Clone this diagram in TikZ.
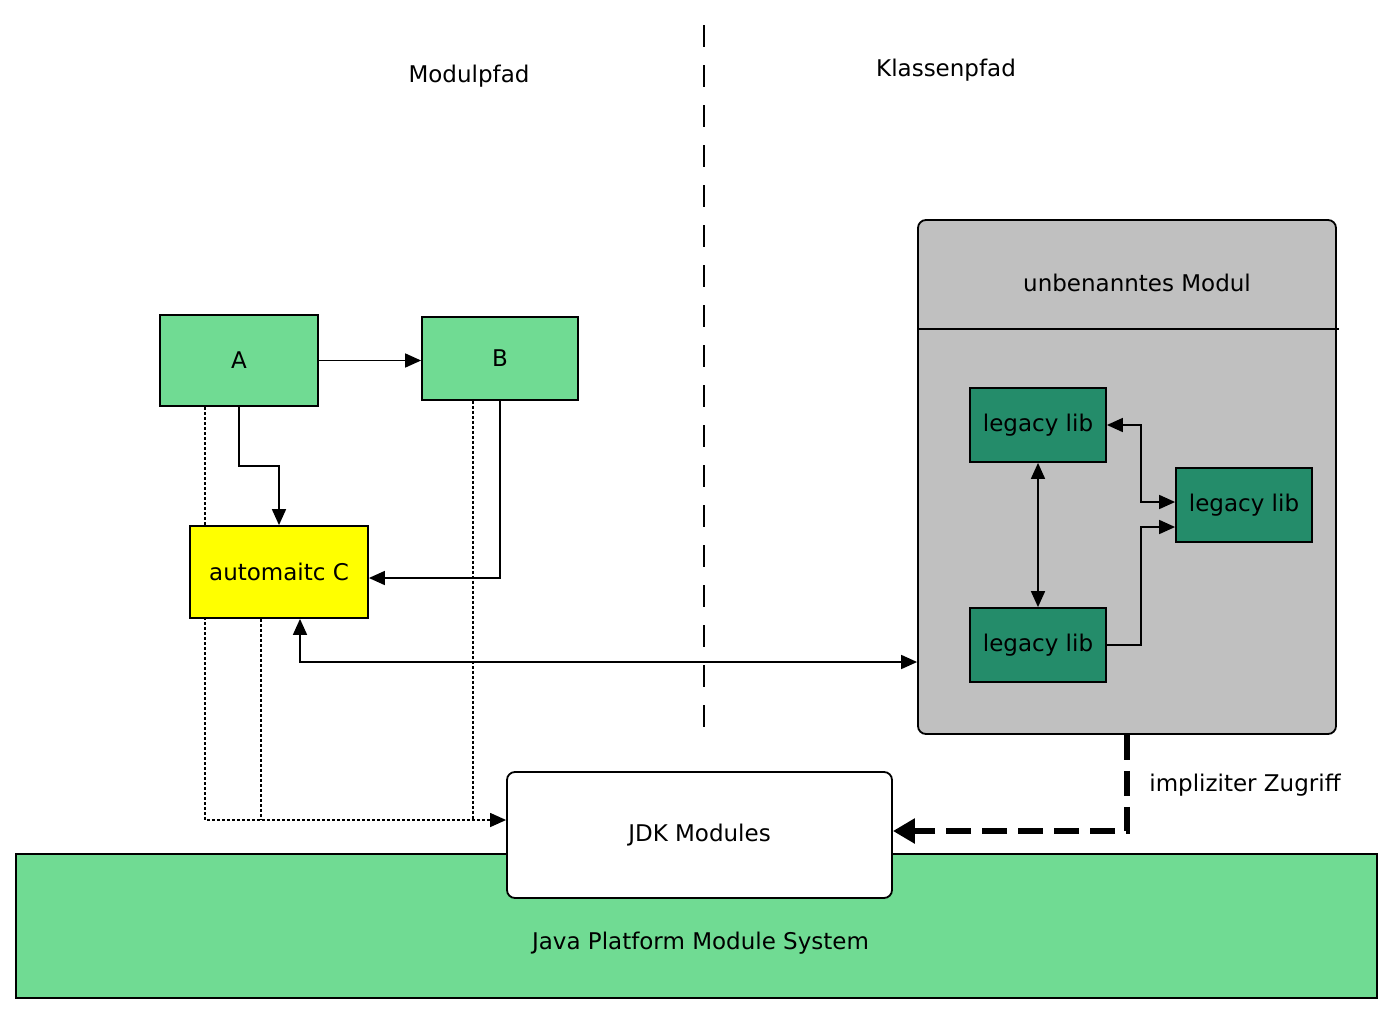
\documentclass[tikz,border=0pt]{standalone}
\usepackage{fontspec}
\setmainfont{DejaVu Sans}
\usetikzlibrary{arrows.meta,backgrounds}
\definecolor{lgreen}{RGB}{112,219,147}
\definecolor{dgreen}{RGB}{36,140,106}
\definecolor{cgray}{RGB}{192,192,192}
\definecolor{cyellow}{RGB}{255,255,0}
\begin{document}
\begin{tikzpicture}[x=1pt,y=-1pt,
  font=\fontsize{23}{27}\selectfont,
  tip/.tip={Triangle[length=16pt,width=14pt]},
  bigtip/.tip={Triangle[length=22pt,width=24pt]},
  modbox/.style={draw, line width=1.8pt, inner sep=0pt, fill=lgreen},
  libbox/.style={draw, line width=1.8pt, inner sep=0pt, fill=dgreen, minimum width=136pt, minimum height=74pt},
  conn/.style={draw, line width=1.7pt, -{tip}},
  dconn/.style={draw, line width=1.7pt, {tip}-{tip}},
  dotc/.style={draw, line width=1.4pt, dash pattern=on 3pt off 2pt},
  divider/.style={draw, line width=1.6pt, dash pattern=on 22pt off 18pt},
  thickd/.style={draw, line width=6pt, dash pattern=on 25pt off 11pt, -{bigtip}},
  txt/.style={inner sep=0pt}
]
\useasboundingbox (0,0) rectangle (1394,1012);

% Java Platform Module System
\node[modbox, minimum width=1361pt, minimum height=144pt] (P) at (696.5,926) {};
\node[txt] (Ptxt) at ([xshift=4pt,yshift=-17pt]P.center) {Java Platform Module System};

% JDK Modules
\node[draw, line width=1.8pt, fill=white, rounded corners=8pt, minimum width=385pt, minimum height=126pt, inner sep=0pt] (J) at (699.5,835) {JDK Modules};

% modules
\node[modbox, minimum width=158pt, minimum height=91pt] (A) at (239,360.5) {A};
\node[modbox, minimum width=156pt, minimum height=83pt] (B) at (500,358.5) {B};
\node[modbox, fill=cyellow, minimum width=178pt, minimum height=92pt] (C) at (279,572) {automaitc C};

% unnamed module container
\node[draw, line width=1.8pt, fill=cgray, rounded corners=8pt, minimum width=418pt, minimum height=514pt, inner sep=0pt] (U) at (1127,477) {};
\draw[line width=1.6pt] ([yshift=-110pt]U.north west) -- ([yshift=-110pt,xshift=2pt]U.north east);
\node[txt] (Utxt) at ([xshift=10pt,yshift=-64pt]U.north) {unbenanntes Modul};

\node[libbox] (L1) at (1038,425) {legacy lib};
\node[libbox] (L2) at (1244,505) {legacy lib};
\node[libbox] (L3) at (1038,645) {legacy lib};

% labels
\node[txt] (mp) at (469,76) {Modulpfad};
\node[txt] (kp) at (946,70) {Klassenpfad};
\node[txt] (iz) at (1245,785) {impliziter Zugriff};

% divider
\coordinate (d1) at (704,25);
\coordinate (d2) at (704,727);
\draw[divider] (d1) -- (d2);

% dotted dependencies to JDK
\coordinate (jin) at ([yshift=15pt]J.west);
\coordinate (a2) at ([xshift=-34pt]A.south);
\coordinate (c2) at ([xshift=-18pt]C.south);
\coordinate (b2) at ([xshift=-27pt]B.south);
\begin{scope}[on background layer]
\draw[dotc, -{tip}] (a2) |- (jin);
\draw[dotc] (c2) -- (c2 |- jin);
\draw[dotc] (b2) -- (b2 |- jin);
\end{scope}

% solid connectors
\draw[conn] (A.east) -- (A.east -| B.west);
\draw[conn] (A.south) -- ++(0,59) -| (C.north);
\draw[conn] (B.south) |- ([yshift=-6pt]C.east);
\draw[dconn] ([xshift=21pt]C.south) |- ([yshift=-185pt]U.west);

\draw[dconn] (L1.south) -- (L3.north);
\draw[dconn] (L1.east) -- ++(34,0) |- ([yshift=3pt]L2.west);
\draw[conn] (L3.east) -- ++(34,0) |- ([yshift=-22pt]L2.west);

% implicit access
\draw[thickd] (U.south) |- ([yshift=4pt]J.east);
\end{tikzpicture}
\end{document}
